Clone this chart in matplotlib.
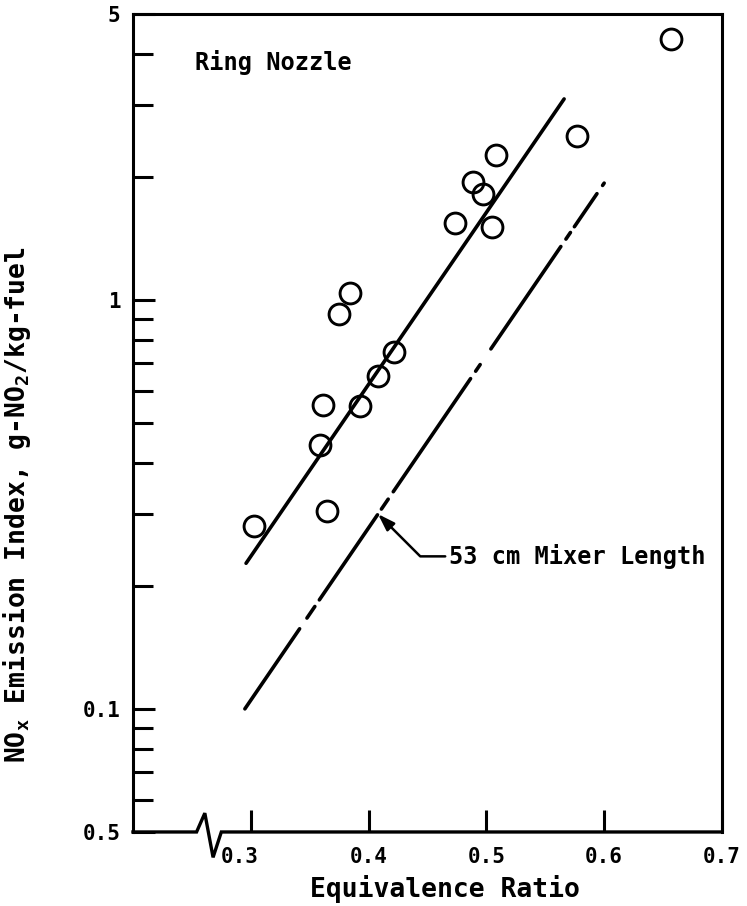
import numpy as np
import matplotlib
matplotlib.use("Agg")
import matplotlib.pyplot as plt

plt.rcParams["font.family"] = "DejaVu Sans Mono"
plt.rcParams["font.weight"] = "bold"
plt.rcParams["axes.labelweight"] = "bold"
plt.rcParams["mathtext.fontset"] = "custom"
plt.rcParams["mathtext.rm"] = "DejaVu Sans Mono:bold"
plt.rcParams["lines.scale_dashes"] = False

# Ring nozzle data
phi = [0.303, 0.359, 0.361, 0.365, 0.375, 0.384, 0.393, 0.408,
       0.422, 0.473, 0.489, 0.497, 0.505, 0.508, 0.577, 0.657]
ei = [0.280, 0.441, 0.552, 0.305, 0.925, 1.038, 0.550, 0.653,
      0.744, 1.542, 1.94, 1.818, 1.51, 2.265, 2.51, 4.34]

# faired line through ring nozzle data
ring_phi = [0.296, 0.566]
ring_ei = [0.227, 3.10]

# 53 cm mixer length reference line
mixer_phi = [0.295, 0.600]
mixer_ei = [0.100, 1.93]
arrow_phi = 0.408

xticks = [0.3, 0.4, 0.5, 0.6, 0.7]
xtick_labels = ["0.3", "0.4", "0.5", "0.6", "0.7"]
yticks = [0.05, 0.1, 1, 5]
ytick_labels = ["0.5", "0.1", "1", "5"]
yminor = [0.06, 0.07, 0.08, 0.09, 0.2, 0.3, 0.4, 0.5, 0.6, 0.7, 0.8, 0.9, 2, 3, 4]

fig = plt.figure(figsize=(7.47, 9.06), dpi=100)
ax = fig.add_axes([0.178, 0.0817, 0.7885, 0.9028])

ax.set_yscale("log")
ax.set_xlim(0.2, 0.7)
ax.set_ylim(0.05, 5)

ax.plot(phi, ei, "o", mfc="none", mec="black", ms=15, mew=2.1, clip_on=False)
ax.plot(ring_phi, ring_ei, "-", color="black", lw=2.6, solid_capstyle="round")

# hand-drawn long/short dash pattern (pixels, converted to points)
dash_px = [97, 13, 14, 8, 103, 7, 12, 9, 137, 9, 8, 19, 124, 9, 8, 7, 40, 10]
(mix_line,) = ax.plot(mixer_phi, mixer_ei, color="black", lw=2.6,
                      dash_capstyle="round")
mix_line.set_dashes([d * 0.72 for d in dash_px])

# annotation pointing at the mixer line
tip_ei = 10 ** np.interp(arrow_phi, mixer_phi, np.log10(mixer_ei))
ax.annotate(
    "53 cm Mixer Length",
    xy=(arrow_phi, tip_ei),
    xytext=(0.4686, 0.236),
    ha="left",
    va="center",
    fontsize=17,
    arrowprops=dict(
        arrowstyle="-|>,head_length=0.6,head_width=0.2",
        connectionstyle="angle,angleA=0,angleB=-45,rad=0",
        relpos=(0, 0.5),
        shrinkA=1,
        shrinkB=0,
        lw=1.8,
        color="black",
    ),
)

ax.text(0.105, 0.941, "Ring Nozzle", transform=ax.transAxes,
        fontsize=17, ha="left", va="center")

# ticks
ax.set_xticks(xticks)
ax.set_xticklabels(xtick_labels)
ax.set_yticks(yticks)
ax.set_yticklabels(ytick_labels)
ax.set_yticks(yminor, minor=True)
ax.yaxis.set_minor_formatter(matplotlib.ticker.NullFormatter())
ax.xaxis.set_minor_locator(matplotlib.ticker.NullLocator())
ax.tick_params(axis="both", which="major", direction="in", length=16,
               width=2.2, labelsize=15, pad=9)
ax.tick_params(axis="y", which="minor", direction="in", length=14.5, width=2.2)
ax.tick_params(axis="x", pad=11)

# first x label sits a bit left of its tick, next to the axis break
lbl = ax.get_xticklabels()[0]
lbl.set_transform(lbl.get_transform()
                  + matplotlib.transforms.ScaledTranslation(-8 / 72, 0, fig.dpi_scale_trans))

for s in ["left", "top", "right"]:
    ax.spines[s].set_linewidth(2.2)
ax.spines["bottom"].set_visible(False)

# bottom axis line with a break symbol
trans = matplotlib.transforms.blended_transform_factory(ax.transData, ax.transAxes)
brk_x = [0.2, 0.254, 0.261, 0.268, 0.275, 0.7]
brk_y = [0, 0, 0.023, -0.031, 0, 0]
ax.plot(brk_x, brk_y, color="black", lw=2.4, transform=trans, clip_on=False,
        solid_joinstyle="miter")

ax.set_xlabel("Equivalence Ratio", fontsize=19)
ax.xaxis.set_label_coords(0.53, -0.052)
ax.set_ylabel(r"NO$_\mathregular{x}$ Emission Index, g-NO$_\mathregular{2}$/kg-fuel",
              fontsize=19)
ax.yaxis.set_label_coords(-0.17, 0.40)

fig.savefig("out.png", dpi=100)
